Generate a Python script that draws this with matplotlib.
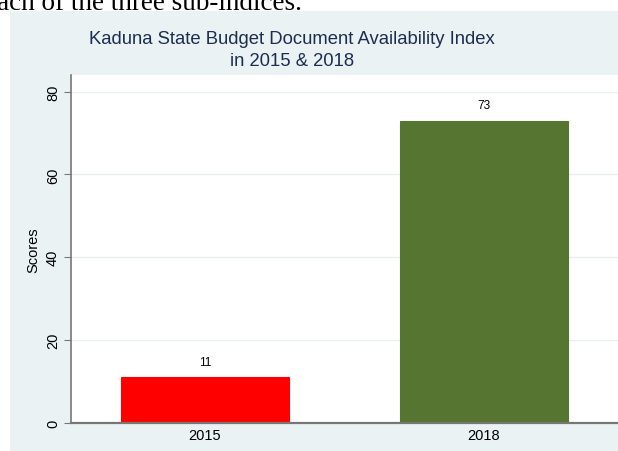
import matplotlib.pyplot as plt
from matplotlib.patches import Rectangle

years = ['2015', '2018']
scores = [11, 73]
colors = ['#ff0000', '#557530']
yticks = [0, 20, 40, 60, 80]

plt.rcParams['font.family'] = ['Liberation Sans', 'DejaVu Sans']

W, H = 618, 452
fig = plt.figure(figsize=(W / 100, H / 100), dpi=100)
fig.patch.set_facecolor('white')

# stata-like panel background, cropped from a document page
fig.patches.append(Rectangle((10 / W, 0), 1 - 10 / W, (H - 12) / H,
                             transform=fig.transFigure, facecolor='#eaf2f3',
                             edgecolor='none', zorder=-10))

# leftover text from the page above the graph
fig.text(302 / W, 1 - 10 / H, 'each of the three sub-indices.', ha='right',
         va='baseline', family='Liberation Serif', fontsize=19.5, color='black')

fig.text(292 / W, 1 - 40 / H, 'Kaduna State Budget Document Availability Index',
         ha='center', va='center', fontsize=13.3, color='#1c2d50')
fig.text(292 / W, 1 - 62 / H, 'in 2015 & 2018',
         ha='center', va='center', fontsize=13.3, color='#1c2d50')

ax = fig.add_axes([71 / W, (H - 423.7) / H, 1 - 71 / W, (423.7 - 76) / H])
ax.set_facecolor('white')

x = range(len(years))
bars = ax.bar(x, scores, width=0.6, color=colors, edgecolor=colors,
              linewidth=0.8, zorder=2)
for xi, v in zip(x, scores):
    ax.text(xi, v + 2.2, str(v), ha='center', va='bottom', fontsize=8.5)

ax.set_xlim(-0.48, 1.48)
ax.set_ylim(0, 84)
ax.set_yticks(yticks)
ax.set_yticklabels([str(t) for t in yticks], rotation=90, va='center')
ax.set_xticks(list(x))
ax.set_xticklabels(years)
ax.tick_params(axis='y', length=5, color='#777777', labelsize=10.5, pad=3)
ax.tick_params(axis='x', length=0, labelsize=10.5, pad=4)
ax.set_ylabel('Scores', fontsize=10.5, labelpad=4)

ax.grid(axis='y', color='#e6eef0', linewidth=0.9, zorder=0)
for s in ['top', 'right']:
    ax.spines[s].set_visible(False)
ax.spines['left'].set_color('#777777')
ax.spines['bottom'].set_color('#777777')
ax.spines['bottom'].set_linewidth(1.6)
ax.spines['left'].set_linewidth(1.2)

fig.savefig('out.png', dpi=100)
